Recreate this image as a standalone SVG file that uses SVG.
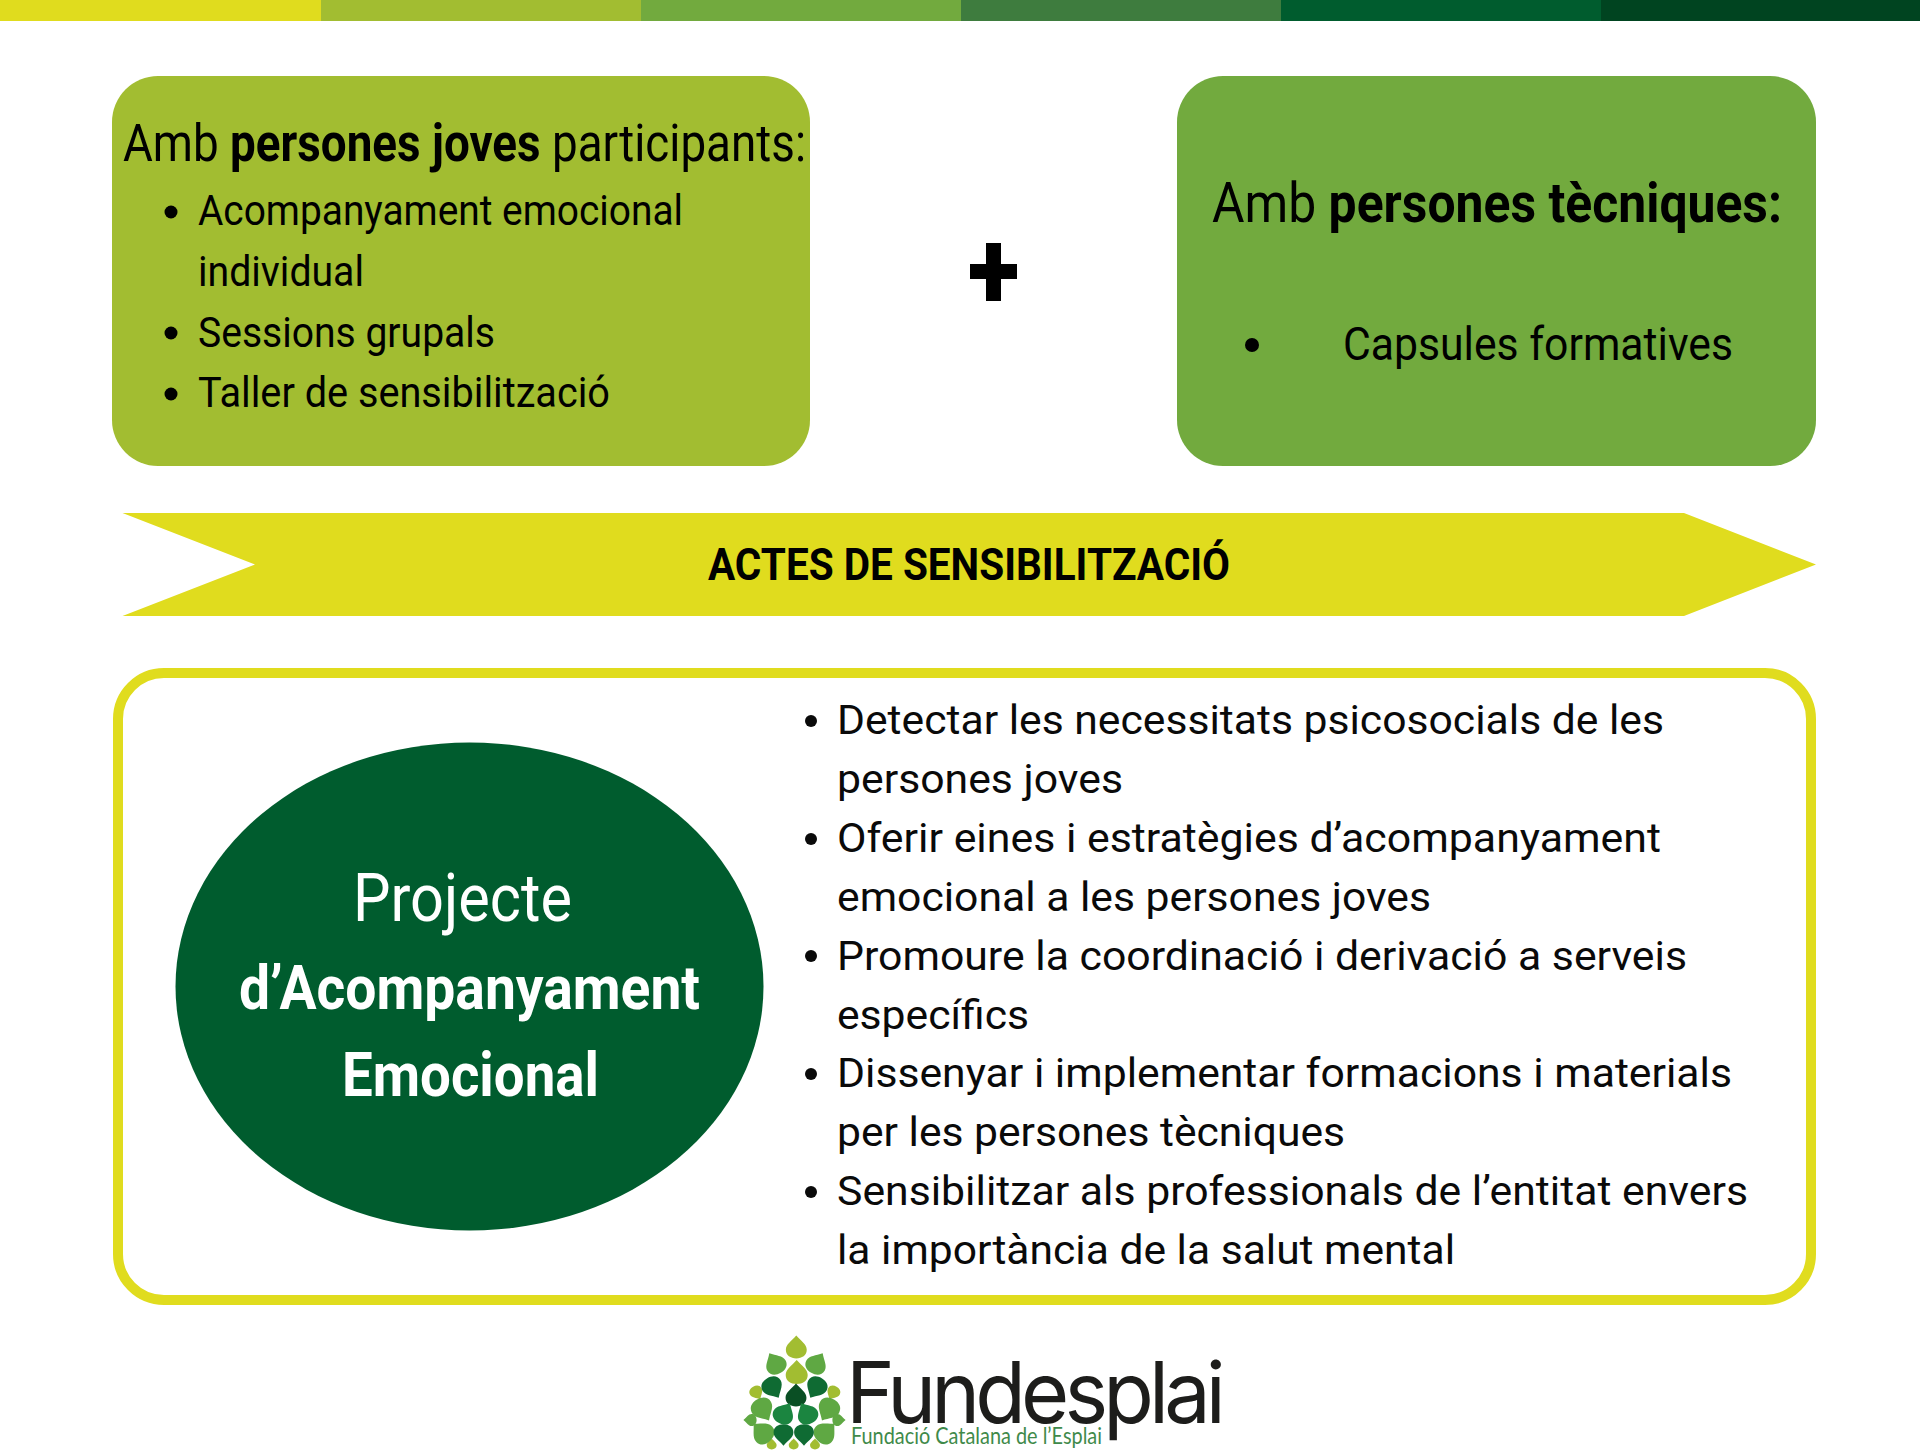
<svg xmlns="http://www.w3.org/2000/svg" width="1920" height="1450" viewBox="0 0 1920 1450">
<style>
text{font-family:Roboto,"Liberation Sans",sans-serif;fill:#000}
.b{font-weight:700}
.h{font-size:51px}.li{font-size:43px}
.o{font-size:40px;fill:#0a0a0a}
.w{fill:#fff}
.lg{font-family:Inter,"Liberation Sans",sans-serif;fill:#1d1d1b;letter-spacing:-5px}
.ls{font-family:Lato,"Liberation Sans",sans-serif;fill:#3f8a4a}
</style>
<defs>
<path id="leaf" d="M0,-12C5,-6 11,-3 11,3C11,9 6,12 0,12C-6,12 -11,9 -11,3C-11,-3 -5,-6 0,-12Z"/>
</defs>
<rect width="1920" height="1450" fill="#fff"/>
<g id="topbar">
<rect x="0" width="321" height="21" fill="#e0dc1e"/>
<rect x="321" width="320" height="21" fill="#a2bd31"/>
<rect x="641" width="320" height="21" fill="#72aa3e"/>
<rect x="961" width="320" height="21" fill="#3e7c3e"/>
<rect x="1281" width="320" height="21" fill="#005c2e"/>
<rect x="1601" width="319" height="21" fill="#004420"/>
</g>
<g id="node-joves">
<rect x="112" y="76" width="698" height="390" rx="46" fill="#a2bd31"/>
<text class="h" x="123" y="161" textLength="683" lengthAdjust="spacingAndGlyphs">Amb <tspan class="b">persones joves</tspan> participants:</text>
<circle cx="171" cy="212" r="6.5"/><circle cx="171" cy="333" r="6.5"/><circle cx="171" cy="394" r="6.5"/>
<text class="li" x="198" y="225" textLength="485" lengthAdjust="spacingAndGlyphs">Acompanyament emocional</text>
<text class="li" x="198" y="286" textLength="166" lengthAdjust="spacingAndGlyphs">individual</text>
<text class="li" x="198" y="347" textLength="297" lengthAdjust="spacingAndGlyphs">Sessions grupals</text>
<text class="li" x="198" y="407" textLength="412" lengthAdjust="spacingAndGlyphs">Taller de sensibilització</text>
</g>
<g id="node-plus"><path d="M986,243H1001V264H1017V279H1001V301H986V279H970V264H986Z" fill="#000"/></g>
<g id="node-tecniques">
<rect x="1177" y="76" width="639" height="390" rx="46" fill="#72aa3e"/>
<text x="1212" y="222" font-size="55" textLength="570" lengthAdjust="spacingAndGlyphs">Amb <tspan class="b">persones tècniques:</tspan></text>
<circle cx="1252" cy="345" r="7"/>
<text x="1343" y="360" font-size="47" textLength="390" lengthAdjust="spacingAndGlyphs">Capsules formatives</text>
</g>
<g id="node-actes">
<polygon points="122.5,513 1684,513 1816,564.5 1684,616 122.5,616 255,564.5" fill="#e0dc1e"/>
<text class="b" x="708" y="580" font-size="45" textLength="522" lengthAdjust="spacingAndGlyphs">ACTES DE SENSIBILITZACIÓ</text>
</g>
<g id="node-frame">
<rect x="118" y="673" width="1693" height="627" rx="46" fill="#fff" stroke="#e0dc1e" stroke-width="10"/>
<g fill="#0a0a0a"><circle cx="811" cy="721" r="6"/><circle cx="811" cy="839" r="6"/><circle cx="811" cy="956" r="6"/><circle cx="811" cy="1074" r="6"/><circle cx="811" cy="1192" r="6"/></g>
<text class="o" x="837" y="734" textLength="827" lengthAdjust="spacingAndGlyphs">Detectar les necessitats psicosocials de les</text>
<text class="o" x="837" y="793" textLength="286" lengthAdjust="spacingAndGlyphs">persones joves</text>
<text class="o" x="837" y="852" textLength="824" lengthAdjust="spacingAndGlyphs">Oferir eines i estratègies d’acompanyament</text>
<text class="o" x="837" y="911" textLength="594" lengthAdjust="spacingAndGlyphs">emocional a les persones joves</text>
<text class="o" x="837" y="970" textLength="850" lengthAdjust="spacingAndGlyphs">Promoure la coordinació i derivació a serveis</text>
<text class="o" x="837" y="1029" textLength="192" lengthAdjust="spacingAndGlyphs">específics</text>
<text class="o" x="837" y="1087" textLength="895" lengthAdjust="spacingAndGlyphs">Dissenyar i implementar formacions i materials</text>
<text class="o" x="837" y="1146" textLength="508" lengthAdjust="spacingAndGlyphs">per les persones tècniques</text>
<text class="o" x="837" y="1205" textLength="911" lengthAdjust="spacingAndGlyphs">Sensibilitzar als professionals de l’entitat envers</text>
<text class="o" x="837" y="1264" textLength="618" lengthAdjust="spacingAndGlyphs">la importància de la salut mental</text>
</g>
<g id="node-projecte">
<ellipse cx="469.5" cy="986.5" rx="294" ry="244" fill="#005c2e"/>
<text class="w" x="353" y="921" font-size="66" textLength="219" lengthAdjust="spacingAndGlyphs">Projecte</text>
<text class="w b" x="239" y="1009" font-size="62" textLength="461" lengthAdjust="spacingAndGlyphs">d’Acompanyament</text>
<text class="w b" x="342" y="1096" font-size="62" textLength="257" lengthAdjust="spacingAndGlyphs">Emocional</text>
</g>
<g id="node-logo">
<g fill="#a2bd31">
<use href="#leaf" transform="translate(796.3,1347) scale(.95)"/>
<use href="#leaf" transform="translate(796.7,1372)"/>
<use href="#leaf" transform="translate(756.7,1393) rotate(150) scale(.6)"/>
<use href="#leaf" transform="translate(833,1393) rotate(210) scale(.6)"/>
<use href="#leaf" transform="translate(771.7,1444) scale(.45)"/>
<use href="#leaf" transform="translate(793.7,1444) scale(.45)"/>
<use href="#leaf" transform="translate(815,1444) scale(.45)"/>
</g>
<g fill="#5fa843">
<use href="#leaf" transform="translate(775,1363) rotate(-30) scale(.95)"/>
<use href="#leaf" transform="translate(817,1363) rotate(30) scale(.95)"/>
<use href="#leaf" transform="translate(763,1410) rotate(150)"/>
<use href="#leaf" transform="translate(828,1410) rotate(210)"/>
<use href="#leaf" transform="translate(750,1420) rotate(-90) scale(.55)"/>
<use href="#leaf" transform="translate(839,1420) rotate(90) scale(.55)"/>
<use href="#leaf" transform="translate(762,1432) rotate(-45)"/>
<use href="#leaf" transform="translate(826,1432) rotate(45)"/>
</g>
<g fill="#0f6b33">
<use href="#leaf" transform="translate(773,1388) rotate(150) scale(.95)"/>
<use href="#leaf" transform="translate(816,1388) rotate(210) scale(.95)"/>
<use href="#leaf" transform="translate(783.5,1435) rotate(180) scale(.9)"/>
<use href="#leaf" transform="translate(804,1435) rotate(180) scale(.9)"/>
</g>
<use href="#leaf" transform="translate(796,1395) scale(.95)" fill="#0a4f24"/>
<g fill="#1b8540">
<use href="#leaf" transform="translate(784.3,1413) rotate(30) scale(.95)"/>
<use href="#leaf" transform="translate(806.7,1413) rotate(-30) scale(.95)"/>
</g>
<text class="lg" x="846" y="1423" font-size="85" textLength="375" lengthAdjust="spacingAndGlyphs">Fundesplai</text>
<text class="ls" x="851" y="1444" font-size="23" textLength="251" lengthAdjust="spacingAndGlyphs">Fundació Catalana de l’Esplai</text>
</g>
</svg>
